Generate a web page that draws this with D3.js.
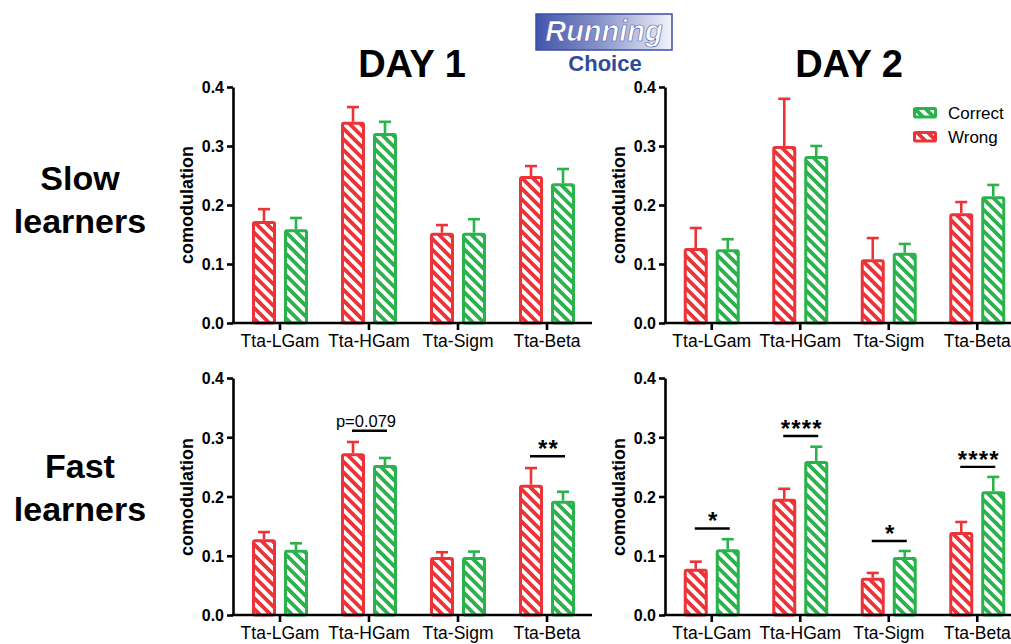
<!DOCTYPE html>
<html>
<head>
<meta charset="utf-8">
<script src="https://cdn.jsdelivr.net/npm/d3@7/dist/d3.min.js"></script>
<style>
  html, body { margin: 0; padding: 0; background: #fff; }
  svg { display: block; font-family: "Liberation Sans", Arial, Helvetica, sans-serif; }
</style>
</head>
<body>
<svg id="chart" width="1011" height="644"></svg>
<script>
// ---------- data ----------
const categories = ["Tta-LGam", "Tta-HGam", "Tta-Sigm", "Tta-Beta"];
const yTicks = [0.0, 0.1, 0.2, 0.3, 0.4];
const seriesNames = ["Correct", "Wrong"];

// Slow learners, Day 1
const slowD1Wrong     = [0.173, 0.341, 0.153, 0.249];
const slowD1WrongSem  = [0.020, 0.025, 0.013, 0.017];
const slowD1Correct   = [0.159, 0.322, 0.153, 0.237];
const slowD1CorrectSem= [0.019, 0.019, 0.023, 0.024];
// Slow learners, Day 2
const slowD2Wrong     = [0.127, 0.300, 0.108, 0.186];
const slowD2WrongSem  = [0.034, 0.080, 0.036, 0.019];
const slowD2Correct   = [0.125, 0.283, 0.119, 0.215];
const slowD2CorrectSem= [0.017, 0.017, 0.015, 0.019];
// Fast learners, Day 1
const fastD1Wrong     = [0.128, 0.273, 0.098, 0.220];
const fastD1WrongSem  = [0.012, 0.019, 0.008, 0.028];
const fastD1Correct   = [0.110, 0.253, 0.098, 0.193];
const fastD1CorrectSem= [0.011, 0.012, 0.009, 0.015];
// Fast learners, Day 2
const fastD2Wrong     = [0.078, 0.196, 0.063, 0.140];
const fastD2WrongSem  = [0.012, 0.017, 0.008, 0.017];
const fastD2Correct   = [0.111, 0.260, 0.098, 0.209];
const fastD2CorrectSem= [0.017, 0.024, 0.010, 0.024];

// significance annotations
const fastD1Sig = [{cat: 1, label: "p=0.079", level: 0.311}, {cat: 3, label: "**", level: 0.268}];
const fastD2Sig = [{cat: 0, label: "*", level: 0.146}, {cat: 1, label: "****", level: 0.302},
                   {cat: 2, label: "*", level: 0.125}, {cat: 3, label: "****", level: 0.250}];

// ---------- style ----------
const RED = "#ec3338";
const GREEN = "#2bb24c";

const svg = d3.select("#chart");
const defs = svg.append("defs");

function hatch(id, color) {
  const s = 7.6;
  const p = defs.append("pattern")
    .attr("id", id)
    .attr("patternUnits", "userSpaceOnUse")
    .attr("width", s).attr("height", s)
    .attr("patternTransform", "rotate(45)");
  p.append("rect").attr("width", s).attr("height", s).attr("fill", color);
  p.append("rect").attr("x", 0).attr("y", 1.9).attr("width", s).attr("height", 3.8).attr("fill", "#fff");
}
hatch("hatchRed", RED);
hatch("hatchGreen", GREEN);

// gradient for "Running" box
const grad = defs.append("linearGradient").attr("id", "runGrad")
  .attr("x1", "0%").attr("x2", "100%").attr("y1", "0%").attr("y2", "0%");
grad.append("stop").attr("offset", "0%").attr("stop-color", "#4455aa");
grad.append("stop").attr("offset", "45%").attr("stop-color", "#8590c8");
grad.append("stop").attr("offset", "100%").attr("stop-color", "#f2f3fa");

// ---------- panels ----------
const panels = [
  {x0: 235.5, x1: 591.5, axisX: 233, axisEnd: 592, yBase: 323, yTop: 87, w: slowD1Wrong, ws: slowD1WrongSem, c: slowD1Correct, cs: slowD1CorrectSem, sig: [], ylabY: 205},
  {x0: 667.5, x1: 1021.5, axisX: 665, axisEnd: 1011, yBase: 323, yTop: 87, w: slowD2Wrong, ws: slowD2WrongSem, c: slowD2Correct, cs: slowD2CorrectSem, sig: [], ylabY: 205},
  {x0: 235.5, x1: 591.5, axisX: 233, axisEnd: 592, yBase: 615, yTop: 378, w: fastD1Wrong, ws: fastD1WrongSem, c: fastD1Correct, cs: fastD1CorrectSem, sig: fastD1Sig, ylabY: 497},
  {x0: 667.5, x1: 1021.5, axisX: 665, axisEnd: 1011, yBase: 615, yTop: 378, w: fastD2Wrong, ws: fastD2WrongSem, c: fastD2Correct, cs: fastD2CorrectSem, sig: fastD2Sig, ylabY: 497}
];

panels.forEach(P => {
  const g = svg.append("g");
  const x = d3.scaleBand().domain(categories).range([P.x0, P.x1]).padding(0);
  const y = d3.scaleLinear().domain([0, 0.4]).range([P.yBase, P.yTop]);
  const half = x.bandwidth() / 2;

  const bars = [];
  categories.forEach((cat, i) => {
    const cx = x(cat) + half;
    bars.push({cx: cx - 16, v: P.w[i], s: P.ws[i], color: RED, fill: "url(#hatchRed)"});
    bars.push({cx: cx + 16, v: P.c[i], s: P.cs[i], color: GREEN, fill: "url(#hatchGreen)"});
  });

  // error bars (upper only)
  g.selectAll(".err").data(bars).enter().append("line")
    .attr("x1", d => d.cx).attr("x2", d => d.cx)
    .attr("y1", d => y(d.v)).attr("y2", d => y(d.v + d.s))
    .attr("stroke", d => d.color).attr("stroke-width", 2.6);
  g.selectAll(".cap").data(bars).enter().append("line")
    .attr("x1", d => d.cx - 6).attr("x2", d => d.cx + 6)
    .attr("y1", d => y(d.v + d.s)).attr("y2", d => y(d.v + d.s))
    .attr("stroke", d => d.color).attr("stroke-width", 2.6);

  g.selectAll(".bar").data(bars).enter().append("rect")
    .attr("x", d => d.cx - 10.5).attr("width", 21)
    .attr("y", d => y(d.v) + 1.5).attr("height", d => P.yBase - y(d.v) - 1.5)
    .attr("rx", 1.5)
    .attr("fill", d => d.fill).attr("stroke", d => d.color).attr("stroke-width", 3);

  // y axis
  const yAxis = d3.axisLeft(y).tickValues(yTicks).tickFormat(d3.format(".1f")).tickSize(6).tickSizeOuter(0);
  const ya = g.append("g").attr("transform", `translate(${P.axisX},0)`).call(yAxis);
  ya.select(".domain").attr("stroke", "#000").attr("stroke-width", 2.6);
  ya.selectAll(".tick line").attr("stroke", "#000").attr("stroke-width", 2.6);
  ya.selectAll(".tick text").attr("font-size", 16).attr("font-weight", "bold")
    .attr("fill", "#000").attr("x", -9).attr("dy", "0.36em");

  // x axis
  const xAxis = d3.axisBottom(x).tickSize(7).tickSizeOuter(0);
  const xa = g.append("g").attr("transform", `translate(0,${P.yBase})`).call(xAxis);
  xa.select(".domain").attr("d", `M${P.axisX - 1.3},0H${P.axisEnd}`).attr("stroke", "#000").attr("stroke-width", 2.6);
  xa.selectAll(".tick line").attr("stroke", "#000").attr("stroke-width", 2.6);
  xa.selectAll(".tick text").attr("font-size", 17.5).attr("fill", "#000").attr("y", 12).attr("dy", "0.71em");

  // y label
  g.append("text")
    .attr("transform", `translate(${P.axisX - 46},${P.ylabY}) rotate(-90)`)
    .attr("text-anchor", "middle").attr("dy", "0.35em")
    .attr("font-size", 18).attr("font-weight", "bold").text("comodulation");

  // significance
  P.sig.forEach(s => {
    const cx = x(categories[s.cat]) + half;
    const ly = y(s.level);
    g.append("line").attr("x1", cx - 17).attr("x2", cx + 18)
      .attr("y1", ly).attr("y2", ly).attr("stroke", "#000").attr("stroke-width", 2.4);
    if (s.label.startsWith("p")) {
      g.append("text").attr("x", cx - 3).attr("y", ly - 4)
        .attr("text-anchor", "middle").attr("font-size", 16.5).text(s.label);
    } else {
      g.append("text").attr("x", cx + 1.5).attr("y", ly + 1)
        .attr("text-anchor", "middle").attr("font-size", 24).attr("font-weight", "bold")
        .attr("letter-spacing", 1.2).text(s.label);
    }
  });
});

// ---------- titles ----------
svg.append("text").attr("x", 412).attr("y", 77).attr("text-anchor", "middle")
  .attr("font-size", 38).attr("font-weight", "bold").text("DAY 1");
svg.append("text").attr("x", 849).attr("y", 77).attr("text-anchor", "middle")
  .attr("font-size", 38).attr("font-weight", "bold").text("DAY 2");

// Running choice box
svg.append("rect").attr("x", 536).attr("y", 14).attr("width", 136).attr("height", 36)
  .attr("fill", "url(#runGrad)").attr("stroke", "#3a4ca6").attr("stroke-width", 1.5);
svg.append("text").attr("x", 604).attr("y", 41).attr("text-anchor", "middle")
  .attr("font-size", 29).attr("font-weight", "bold").attr("font-style", "italic")
  .attr("fill", "#fff").attr("stroke", "#4a5aa8").attr("stroke-width", 0.6).text("Running");
svg.append("text").attr("x", 605).attr("y", 71).attr("text-anchor", "middle")
  .attr("font-size", 22).attr("font-weight", "bold").attr("fill", "#2f4a9c").text("Choice");

// row labels
[["Slow", 190, "learners", 233], ["Fast", 478, "learners", 521]].forEach(r => {
  svg.append("text").attr("x", 80).attr("y", r[1]).attr("text-anchor", "middle")
    .attr("font-size", 34).attr("font-weight", "bold").text(r[0]);
  svg.append("text").attr("x", 80).attr("y", r[3]).attr("text-anchor", "middle")
    .attr("font-size", 34).attr("font-weight", "bold").text(r[2]);
});

// legend
const legend = svg.append("g");
const legendColors = {Correct: ["url(#hatchGreen)", GREEN], Wrong: ["url(#hatchRed)", RED]};
seriesNames.forEach((name, i) => {
  const ly = 107 + i * 24;
  legend.append("rect").attr("x", 914.5).attr("y", ly + 1.5).attr("width", 21).attr("height", 8.5)
    .attr("fill", legendColors[name][0]).attr("stroke", legendColors[name][1]).attr("stroke-width", 3).attr("rx", 1);
  legend.append("text").attr("x", 948).attr("y", ly + 6).attr("dy", "0.35em")
    .attr("font-size", 17).text(name);
});
</script>
</body>
</html>
